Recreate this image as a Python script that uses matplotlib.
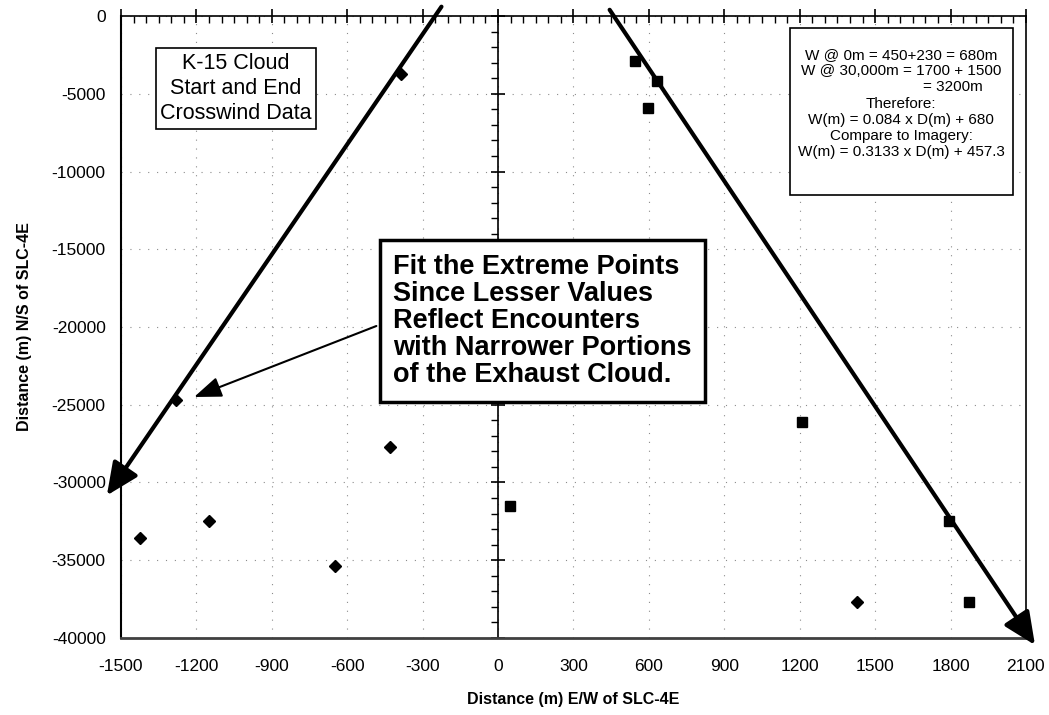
import numpy as np
import matplotlib
matplotlib.use("Agg")
import matplotlib.pyplot as plt
from matplotlib.patches import Rectangle

plt.rcParams['font.family'] = ['Liberation Sans', 'DejaVu Sans']
plt.rcParams['axes.unicode_minus'] = False

# Datos (m)
diamante_x = [-387, -1281, -1424, -1149, -647, -428, 1428]
diamante_y = [-3730, -24695, -33569, -32476, -35370, -27717, -37685]
cuadro_x = [546, 633, 598, 48, 1210, 1794, 1873]
cuadro_y = [-2894, -4180, -5916, -31511, -26110, -32476, -37685]

# Rectas de ajuste a los puntos extremos (inicio, fin)
ajuste_izq_x = [-225, -1556]
ajuste_izq_y = [600, -30830]
ajuste_der_x = [444, 2136]
ajuste_der_y = [400, -40450]

# Flecha del comentario
flecha_x = [-484, -1209]
flecha_y = [-19936, -24502]

xticks = np.arange(-1500, 2101, 300)
yticks = np.arange(-40000, 1, 5000)

fig = plt.figure(figsize=(10.49, 7.15), dpi=100)
ax = fig.add_axes([0.1153, 0.1077, 0.978 - 0.1153, 0.9776 - 0.1077])
ax.set_xlim(-1500, 2100)
ax.set_ylim(-40000, 0)
ax.set_xticks(xticks)
ax.set_yticks(yticks)
ax.set_xticks(np.arange(-1500, 2101, 50), minor=True)
ax.set_yticks(np.arange(-40000, 1, 1000), minor=True)

# Eje x sobre y=0 (arriba), eje y sobre x=0
ax.spines['right'].set_position(('data', 0))
ax.spines['right'].set_linewidth(1.2)
ax.spines['top'].set_linewidth(1.2)
ax.spines['left'].set_linewidth(1.5)
ax.spines['bottom'].set_linewidth(2.0)
ax.spines['bottom'].set_color('0.25')
ax.tick_params(axis='x', which='both', bottom=False, top=True,
               labelbottom=True, labeltop=False, labelsize=12.5, pad=10)
ax.tick_params(axis='x', which='major', direction='inout', length=10, width=1.2)
ax.tick_params(axis='x', which='minor', direction='in', length=5, width=1)
ax.tick_params(axis='y', which='both', left=False, right=True,
               labelleft=True, labelright=False, labelsize=12.5, pad=6)
ax.tick_params(axis='y', which='major', direction='inout', length=10, width=1.2)
ax.tick_params(axis='y', which='minor', direction='in', length=5, width=1)
# marco derecho
ax.plot([1, 1], [0, 1], transform=ax.transAxes, color='black', lw=1.2, clip_on=False)

ax.grid(True, which='major', color='0.55', linestyle=(0, (1, 7)), linewidth=0.8)

ax.plot(diamante_x, diamante_y, 'D', color='black', ms=6, zorder=5)
ax.plot(cuadro_x, cuadro_y, 's', color='black', ms=7, zorder=5)

estilo = '-|>,head_length=1.1,head_width=0.5'
for xs, ys in [(ajuste_izq_x, ajuste_izq_y), (ajuste_der_x, ajuste_der_y)]:
    ax.annotate('', xy=(xs[1], ys[1]), xytext=(xs[0], ys[0]),
                annotation_clip=False,
                arrowprops=dict(arrowstyle=estilo, color='black', lw=3,
                                mutation_scale=18, shrinkA=0, shrinkB=0))

ax.annotate('', xy=(flecha_x[1], flecha_y[1]), xytext=(flecha_x[0], flecha_y[0]),
            arrowprops=dict(arrowstyle='-|>,head_length=1.2,head_width=0.45',
                            color='black', lw=1.5, mutation_scale=14,
                            shrinkA=0, shrinkB=0))

ax.text(-416, -19614,
        'Fit the Extreme Points\nSince Lesser Values\nReflect Encounters\n'
        'with Narrower Portions\nof the Exhaust Cloud.',
        fontsize=19.5, fontweight='bold', ha='left', va='center', linespacing=1.05,
        zorder=6,
        bbox=dict(boxstyle='square,pad=0.5', facecolor='white',
                  edgecolor='black', linewidth=2.5))

ax.text(-1044, -4662, 'K-15 Cloud\nStart and End\nCrosswind Data',
        fontsize=15.5, ha='center', va='center', linespacing=1.28, zorder=6,
        bbox=dict(boxstyle='square,pad=0.2', facecolor='white',
                  edgecolor='black', linewidth=1.2))

# Caja de la derecha
ax.add_patch(Rectangle((0.739, 0.7122), 0.2466, 0.2685, transform=ax.transAxes,
                       facecolor='white', edgecolor='black', lw=1.2, zorder=6))
lineas = ['W @ 0m = 450+230 = 680m', 'W @ 30,000m = 1700 + 1500', '',
          'Therefore:', 'W(m) = 0.084 x D(m) + 680', 'Compare to Imagery:',
          'W(m) = 0.3133 x D(m) + 457.3']
for i, s in enumerate(lineas):
    ax.text(0.862, 0.9373 - i * 0.026, s, transform=ax.transAxes, fontsize=11,
            ha='center', va='center', zorder=7)
ax.text(0.9525, 0.9373 - 2 * 0.026, '= 3200m', transform=ax.transAxes,
        fontsize=11, ha='right', va='center', zorder=7)

ax.set_xlabel('Distance (m) E/W of SLC-4E', fontsize=11.5, fontweight='bold', labelpad=13)
ax.set_ylabel('Distance (m) N/S of SLC-4E', fontsize=11.5, fontweight='bold', labelpad=14)

fig.savefig('out.png', dpi=100)
